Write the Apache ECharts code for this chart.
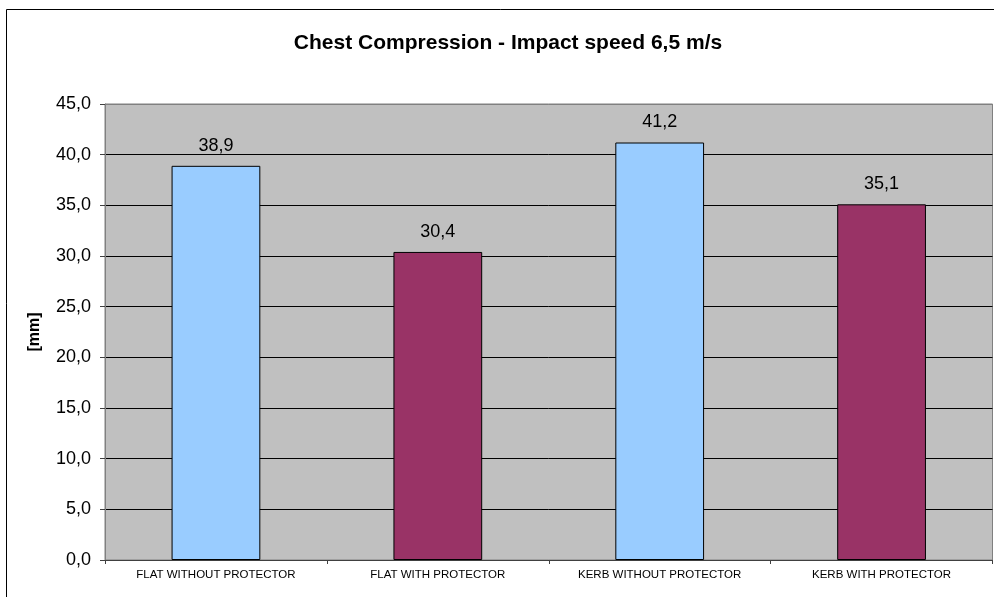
<!DOCTYPE html>
<html>
<head>
<meta charset="utf-8">
<script src="https://cdn.jsdelivr.net/npm/echarts@6/dist/echarts.min.js"></script>
<style>
  html, body { margin: 0; padding: 0; background: #fff; }
  #main { width: 994px; height: 597px; }
</style>
</head>
<body>
<div id="main"></div>
<script>
// chart data
var categories = ['FLAT WITHOUT PROTECTOR', 'FLAT WITH PROTECTOR', 'KERB WITHOUT PROTECTOR', 'KERB WITH PROTECTOR'];
var values = [38.9, 30.4, 41.2, 35.1];
var barColors = ['#99CCFF', '#993366', '#99CCFF', '#993366'];
var titleText = 'Chest Compression - Impact speed 6,5 m/s';
var yName = '[mm]';

var chart = echarts.init(document.getElementById('main'));

function comma(v, digits) {
    return v.toFixed(digits).replace('.', ',');
}

// split lines black, except the top one which sits on the gray plot border
var gridColors = ['#000', '#000', '#000', '#000', '#000', '#000', '#000', '#000', '#000', '#808080'];

var option = {
    animation: false,
    textStyle: { fontFamily: 'Liberation Sans, Arial, sans-serif' },
    title: {
        text: titleText,
        left: 503,
        textAlign: 'center',
        top: 28,
        textStyle: { fontSize: 21, fontWeight: 'bold', color: '#000' }
    },
    graphic: [
        {
            type: 'rect',
            shape: { x: 6.5, y: 9.5, width: 1000, height: 600 },
            style: { fill: 'none', stroke: '#000', lineWidth: 1 },
            z: -10
        }
    ],
    grid: {
        left: 105,
        right: 1.5,
        top: 104,
        bottom: 37,
        show: true,
        backgroundColor: '#C0C0C0',
        borderColor: '#808080',
        borderWidth: 1
    },
    xAxis: {
        type: 'category',
        data: categories,
        axisLine: { lineStyle: { color: '#404040', width: 1 } },
        axisTick: { show: true, length: 4, lineStyle: { color: '#404040' } },
        axisLabel: { fontSize: 11.5, color: '#000', margin: 9, interval: 0 }
    },
    yAxis: {
        type: 'value',
        min: 0,
        max: 45,
        interval: 5,
        name: yName,
        nameLocation: 'middle',
        nameGap: 62,
        nameRotate: 90,
        nameTextStyle: { fontSize: 16, fontWeight: 'bold', color: '#000' },
        axisLine: { show: true, lineStyle: { color: '#808080' } },
        axisTick: { show: true, length: 5, lineStyle: { color: '#404040' } },
        axisLabel: {
            fontSize: 18,
            color: '#000',
            margin: 14,
            formatter: function (v) { return comma(v, 1); }
        },
        splitLine: { show: true, lineStyle: { color: gridColors, width: 1 } }
    },
    series: [
        {
            type: 'bar',
            barWidth: '40%',
            data: values.map(function (v, i) {
                return { value: v, itemStyle: { color: barColors[i] } };
            }),
            itemStyle: { borderColor: '#000', borderWidth: 1 },
            label: {
                show: true,
                position: 'top',
                distance: 11,
                fontSize: 18,
                color: '#000',
                formatter: function (p) { return comma(p.value, 1); }
            }
        }
    ]
};

chart.setOption(option);
</script>
</body>
</html>
